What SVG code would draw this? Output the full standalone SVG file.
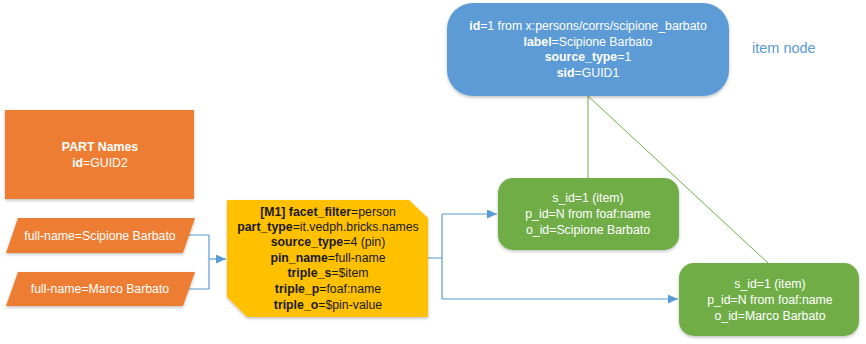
<svg xmlns="http://www.w3.org/2000/svg" width="866" height="344" viewBox="0 0 866 344">
  <style>
    text { font-family: "Liberation Sans", Arial, sans-serif; font-size: 12.3px; text-anchor: middle; }
    .w { fill: #ffffff; }
    .k { fill: #1a1a1a; }
    .b { font-weight: bold; }
    .blue { fill: #5b9bd5; }
    .orange { fill: #ed7d31; }
    .green { fill: #70ad47; }
    .yellow { fill: #ffc000; }
    .flow { fill: none; stroke: #5b9bd5; stroke-width: 1.2; }
    .link { fill: none; stroke: #70ad47; stroke-width: 1; }
    .note { fill: #5b9bd5; font-size: 14.5px; text-anchor: start; }
  </style>
  <defs>
    <filter id="shadow" x="-10%" y="-10%" width="120%" height="130%">
      <feDropShadow dx="0" dy="1.5" stdDeviation="1.5" flood-color="#000" flood-opacity="0.25"/>
    </filter>
    <marker id="arrow" markerUnits="userSpaceOnUse" markerWidth="10" markerHeight="9" refX="10" refY="4.5" orient="auto">
      <path d="M0,0 L10,4.5 L0,9 z" fill="#5b9bd5"/>
    </marker>
  </defs>

  <!-- connectors -->
  <g id="connectors">
    <path class="flow" d="M189 235 H209 M189 289 H209 M209 235 V289"/>
    <path class="flow" d="M209 259 H226" marker-end="url(#arrow)"/>
    <path class="flow" d="M428 258 H442 M442 214 V299"/>
    <path class="flow" d="M442 214 H497" marker-end="url(#arrow)"/>
    <path class="flow" d="M442 299 H678" marker-end="url(#arrow)"/>
    <path class="link" d="M588 96 V178"/>
    <path class="link" d="M588 96 L768 263"/>
  </g>

  <!-- item node -->
  <g id="item-node">
    <rect class="blue" x="447" y="3" width="282" height="93" rx="26" filter="url(#shadow)"/>
    <text class="w" x="588" y="30"><tspan class="b">id</tspan>=1 from x:persons/corrs/scipione_barbato</text>
    <text class="w" x="588" y="46"><tspan class="b">label</tspan>=Scipione Barbato</text>
    <text class="w" x="588" y="61"><tspan class="b">source_type</tspan>=1</text>
    <text class="w" x="588" y="77"><tspan class="b">sid</tspan>=GUID1</text>
  </g>
  <text class="note" x="752" y="53">item node</text>

  <!-- part -->
  <g id="part-names">
    <rect class="orange" x="5" y="110" width="189" height="89" filter="url(#shadow)"/>
    <text class="w b" x="100" y="151">PART Names</text>
    <text class="w" x="100" y="167"><tspan class="b">id</tspan>=GUID2</text>
  </g>

  <!-- pins -->
  <g id="pin-scipione">
    <polygon class="orange" points="18,218 195,218 183,253 6,253" filter="url(#shadow)"/>
    <text class="w" x="100" y="240">full-name=Scipione Barbato</text>
  </g>
  <g id="pin-marco">
    <polygon class="orange" points="18,272 195,272 183,306 6,306" filter="url(#shadow)"/>
    <text class="w" x="100" y="293">full-name=Marco Barbato</text>
  </g>

  <!-- mapping -->
  <g id="mapping-m1">
    <polygon class="yellow" points="227,200 409,200 428,218 428,317 247,317 227,297" filter="url(#shadow)"/>
    <text class="k" x="328" y="216"><tspan class="b">[M1] facet_filter</tspan>=person</text>
    <text class="k" x="328" y="231"><tspan class="b">part_type</tspan>=it.vedph.bricks.names</text>
    <text class="k" x="328" y="246"><tspan class="b">source_type</tspan>=4 (pin)</text>
    <text class="k" x="328" y="262"><tspan class="b">pin_name</tspan>=full-name</text>
    <text class="k" x="328" y="277"><tspan class="b">triple_s</tspan>=$item</text>
    <text class="k" x="328" y="293"><tspan class="b">triple_p</tspan>=foaf:name</text>
    <text class="k" x="328" y="309"><tspan class="b">triple_o</tspan>=$pin-value</text>
  </g>

  <!-- triples -->
  <g id="triple-scipione">
    <rect class="green" x="498" y="178" width="181" height="72" rx="15" filter="url(#shadow)"/>
    <text class="w" x="588" y="202">s_id=1 (item)</text>
    <text class="w" x="588" y="218">p_id=N from foaf:name</text>
    <text class="w" x="588" y="234">o_id=Scipione Barbato</text>
  </g>
  <g id="triple-marco">
    <rect class="green" x="679" y="263" width="180" height="73" rx="15" filter="url(#shadow)"/>
    <text class="w" x="770" y="288">s_id=1 (item)</text>
    <text class="w" x="770" y="304">p_id=N from foaf:name</text>
    <text class="w" x="770" y="320">o_id=Marco Barbato</text>
  </g>
</svg>
